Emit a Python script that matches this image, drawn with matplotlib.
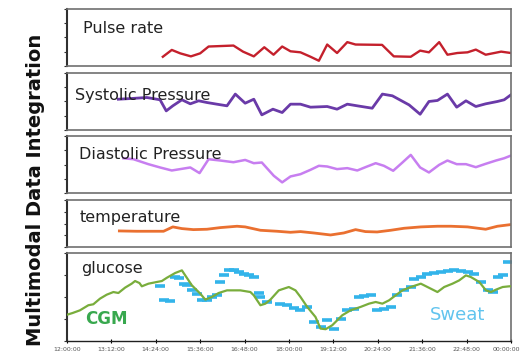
import matplotlib
matplotlib.use("Agg")
from matplotlib import pyplot as plt
from matplotlib.transforms import ScaledTranslation

plt.rcParams["font.family"] = ["DejaVu Sans"]

# minutes after 12:00:00, values in % of panel height
pulse_t = [155.5, 170, 183.7, 201, 216, 229.7, 270, 285.5, 303, 320, 335, 349, 362.5, 378.7,
           395, 408.5, 422, 438, 454.6, 468, 511, 530, 557.5, 572.7, 587, 603.6, 617, 633,
           649.6, 663, 679, 693, 704, 720]
pulse_v = [16, 28, 22, 16.7, 22, 34, 35.7, 25, 16.7, 32.7, 19.6, 34, 25.6, 23.8,
           16, 9, 37.5, 22.6, 41.7, 37.5, 36.9, 16.7, 16, 26.8, 23.8, 41.7, 19.6, 22.6,
           23.8, 28.6, 19.6, 22.6, 25, 22.6]

sys_t = [83.4, 105, 129.5, 151, 161, 171.7, 186.4, 200, 213.5, 227, 243, 259.5, 273, 289,
         303, 316, 334, 349, 362.5, 378.7, 395, 422, 438, 454.6, 470.8, 495, 511.5, 527.7,
         554.8, 572.7, 587, 600.8, 617, 632, 647, 663, 679, 698, 709, 720]
sys_v = [54, 55.3, 57, 53, 33.5, 42.4, 53, 45.9, 51.2, 48.2, 45.3, 42.4, 63, 47,
         54, 26.5, 36.5, 30.6, 45.3, 45.3, 40, 41.2, 36.5, 45.3, 42.4, 38.2, 63, 60,
         44, 27.6, 50, 51.8, 63, 40, 51.2, 41.2, 45.9, 50, 53, 61.8]

dia_t = [91.6, 107.8, 132, 151, 170, 183.7, 200, 215, 229.7, 248.7, 270, 289, 303, 316,
         335.4, 349, 362.5, 378.7, 395, 408.5, 422, 438, 454.6, 470.8, 484, 500.6, 514,
         529, 544, 557.5, 572.7, 587, 603.6, 617, 632, 647, 663, 679, 695.7, 709, 720]
dia_v = [61, 59.3, 50.6, 44.8, 39.5, 41.9, 44.8, 34.9, 59.3, 57, 54, 58, 52.3, 53.5,
         30.2, 18.6, 29, 33, 40.7, 47.7, 46.5, 41.9, 43.6, 39.5, 45.3, 52.3, 47.7,
         39, 53.5, 66.9, 44.8, 36, 49.4, 57, 50.6, 50.6, 45.3, 51.2, 57, 61, 65.7]

temp_t = [85, 113, 156.6, 171.7, 186.4, 205, 227, 248.7, 275.8, 289, 313.7, 340.8, 362.5,
          378.7, 400, 427.5, 449, 468, 484, 503, 525, 546.7, 573.8, 600.8, 622.5, 649.6,
          679, 698, 720]
temp_v = [34.3, 33.6, 33.6, 42.9, 39.3, 37.1, 37.9, 41.4, 44.3, 42.9, 35.7, 33.6, 31.4,
          32.9, 30, 25.7, 30, 37.1, 32.9, 32.1, 35.7, 40, 42.9, 44.3, 44.3, 42.9,
          37.9, 44.3, 47.9]

cgm_t = [0, 9.2, 21, 34.7, 42.8, 53.6, 64.5, 75.3, 83.4, 94.3, 105, 110.5, 117.6, 121.4,
         132.2, 145.7, 153.9, 162, 175.5, 186.4, 191.8, 202.6, 216.2, 224.3, 235.1, 246,
         259.5, 281.2, 297.5, 302.9, 313.7, 321.8, 330, 343.5, 359.8, 370.6, 378.7,
         389.6, 403, 411.2, 419.4, 430.2, 446.4, 460, 476.2, 489.8, 500.6, 511.5, 522.3,
         533.1, 544, 557.5, 573.8, 584.6, 600.8, 611.7, 625.2, 636, 646.9, 655, 668.6,
         679.4, 687.5, 695.7, 706.5, 717.3, 720]
cgm_v = [30, 32, 35, 40.8, 41.9, 48.3, 52.8, 55.8, 54.7, 60.8, 65.3, 68.3, 66, 62.3,
         65.3, 67.2, 68.3, 72, 77.4, 80.4, 74.7, 63.4, 54, 47.2, 50.2, 54.7,
         57.7, 57.7, 55.8, 52.1, 40.8, 42.6, 47.2, 57.7, 61.5, 57.7, 50.2,
         38.9, 27.5, 14.3, 13.6, 18.1, 29.4, 35.1, 38.9, 42.6, 44.5, 42.6, 46.4,
         52.1, 57.7, 61.5, 65.3, 61.5, 55.8, 61.5, 65.3, 69, 74.7, 72.8, 67.2,
         57.7, 55.8, 58.5, 61.5, 62.3, 62.3]

sweat_t = [151.2, 156.6, 167.4, 175.5, 181, 189, 194.5, 202.6, 210.8, 218.9, 227, 235.1,
           243.3, 248.7, 254.1, 262.2, 270.4, 278.5, 286.6, 294.7, 302.9, 311, 313.7,
           324.5, 346.2, 357, 367.9, 378.7, 389.6, 400.4, 411.2, 422.1, 432.9, 443.7,
           454.6, 465.4, 473.5, 481.7, 492.5, 503.3, 514.2, 525, 535.8, 546.7, 557.5,
           562.9, 573.8, 584.6, 595.4, 606.3, 617.1, 627.9, 638.8, 649.6, 660.4, 671.3,
           682.1, 690.2, 698.4, 706.5, 714.6]
sweat_v = [62.3, 46.4, 45.7, 72.8, 72.1, 65.3, 63.4, 58.5, 54, 47.2, 46.4, 50.2,
           52.1, 67.2, 74.7, 81.1, 80.4, 78.5, 76.6, 74.7, 72.8, 54.7, 50.2,
           44.5, 42.6, 40.8, 38.1, 35.8, 38.9, 21.9, 16.2, 23.8, 14.3, 25.7,
           35.1, 37, 50.2, 50.9, 52.1, 35.1, 37, 38.9, 52.1, 58.5, 61.5,
           70.9, 72.8, 75.8, 77.4, 78.5, 79.6, 80.4, 79.6, 78.5, 76.6, 67.2,
           58.5, 55.8, 72.8, 74.7, 89.8]

tick_pos = [0, 72, 144, 216, 288, 360, 432, 504, 576, 648, 720]
tick_labels = ["12:00:00", "13:12:00", "14:24:00", "15:36:00", "16:48:00", "18:00:00",
               "19:12:00", "20:24:00", "21:36:00", "22:48:00", "00:00:00"]

fig = plt.figure(figsize=(5.23, 3.58), dpi=100)

x0, w = 0.128, 0.849
boxes = [(0.816, 0.159), (0.637, 0.159), (0.461, 0.159), (0.310, 0.131), (0.047, 0.246)]
axes = [fig.add_axes([x0, b, w, h]) for b, h in boxes]

for ax in axes:
    ax.set_xlim(0, 720)
    ax.set_ylim(0, 100)
    for s in ax.spines.values():
        s.set_color("#707070")
        s.set_linewidth(1.2)
    ax.spines["left"].set_color("#303030")
    ax.spines["left"].set_linewidth(1.5)
    ax.set_yticks([0, 25, 50, 75, 100])
    ax.set_yticklabels([])
    ax.tick_params(axis="y", length=2, width=0.8, color="#303030")
    ax.set_xticks([])

axes[0].plot(pulse_t, pulse_v, color="#c4202c", lw=1.7)
axes[1].plot(sys_t, sys_v, color="#6a3aa8", lw=2)
axes[2].plot(dia_t, dia_v, color="#c77ef0", lw=1.8)
axes[3].plot(temp_t, temp_v, color="#ea7030", lw=2)
axes[4].plot(cgm_t, cgm_v, color="#79ad3c", lw=1.6, zorder=3)
axes[4].plot(sweat_t, sweat_v, ls="none", marker="_", ms=7, mew=2.6, color="#33b4ea", zorder=2)

labels = ["Pulse rate", "Systolic Pressure", "Diastolic Pressure", "temperature", "glucose"]
label_xy = [(0.036, 0.58), (0.018, 0.526), (0.027, 0.596), (0.029, 0.54), (0.032, 0.77)]
for ax, lab, (lx, ly) in zip(axes, labels, label_xy):
    ax.text(lx, ly, lab, transform=ax.transAxes, fontsize=11.5, color="#222222",
            va="baseline", ha="left", zorder=5)

gl = axes[4]
gl.text(0.04, 0.19, "CGM", transform=gl.transAxes, fontsize=12, fontweight="bold",
        color="#38a84e", va="baseline")
gl.text(0.818, 0.24, "Sweat", transform=gl.transAxes, fontsize=13,
        color="#62c4ee", va="baseline")
gl.spines["bottom"].set_color("#202020")
gl.spines["bottom"].set_linewidth(1)
gl.set_xticks(tick_pos)
gl.set_xticklabels(tick_labels, fontsize=4.5, color="#555555")
gl.tick_params(axis="x", length=3, width=0.8, direction="inout", pad=3)
last = gl.get_xticklabels()[-1]
last.set_transform(last.get_transform() + ScaledTranslation(-3 / 72, 0, fig.dpi_scale_trans))

fig.text(0.067, 0.47, "Multimodal Data Integration", rotation=90, fontsize=14,
         fontweight="bold", ha="center", va="center", color="#111111")

fig.savefig("out.png", dpi=100)
